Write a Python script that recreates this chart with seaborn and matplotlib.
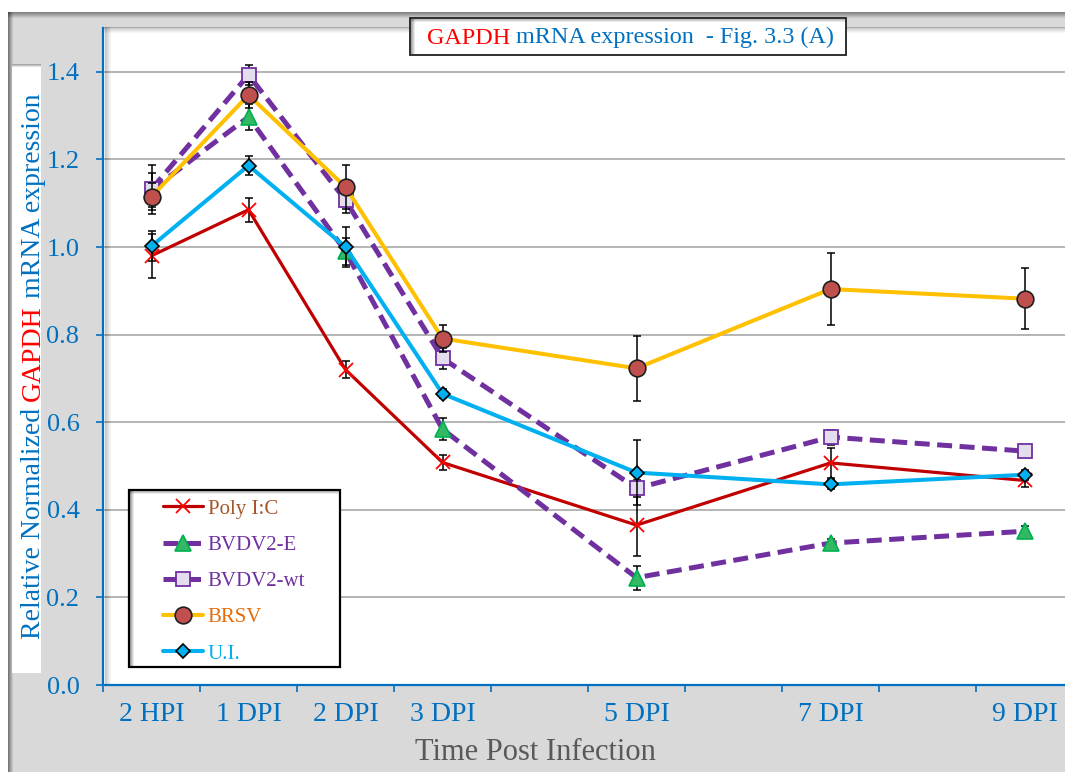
import numpy as np
import pandas as pd
import matplotlib
matplotlib.use("Agg")
import matplotlib.pyplot as plt
import seaborn as sns
from matplotlib.patches import Rectangle
from matplotlib.lines import Line2D

# ---------------- data ----------------
time_labels = ["2 HPI", "1 DPI", "2 DPI", "3 DPI", "5 DPI", "7 DPI", "9 DPI"]
time_pos = [0.5, 1.5, 2.5, 3.5, 5.5, 7.5, 9.5]

series_names = ["Poly I:C", "BVDV2-E", "BVDV2-wt", "BRSV", "U.I."]

poly_ic = [0.98, 1.085, 0.72, 0.508, 0.365, 0.507, 0.467]
poly_ic_err = [0.05, 0.028, 0.02, 0.017, 0.07, 0.035, 0.015]

bvdv2_e = [1.13, 1.297, 0.99, 0.584, 0.245, 0.324, 0.351]
bvdv2_e_err = [0.038, 0.03, 0.03, 0.025, 0.027, 0.01, 0.012]

bvdv2_wt = [1.132, 1.393, 1.107, 0.746, 0.449, 0.566, 0.534]
bvdv2_wt_err = [0.056, 0.022, 0.03, 0.024, 0.02, 0.017, 0.01]

brsv = [1.115, 1.347, 1.137, 0.791, 0.723, 0.904, 0.882]
brsv_err = [0.03, 0.03, 0.05, 0.03, 0.074, 0.083, 0.07]

ui = [1.002, 1.186, 1.0, 0.665, 0.485, 0.458, 0.48]
ui_err = [0.034, 0.021, 0.045, 0.01, 0.074, 0.01, 0.012]

y_ticks = [0.0, 0.2, 0.4, 0.6, 0.8, 1.0, 1.2, 1.4]

# ---------------- style ----------------
W, H = 1065, 772
sns.set_theme(style="white")
plt.rcParams["font.family"] = ["Liberation Serif", "DejaVu Serif"]

BLUE = "#0070C0"
RED = "#FF0000"

fig = plt.figure(figsize=(W / 100, H / 100), dpi=100)
fig.patch.set_facecolor("white")


def add_rect(x0, y0, x1, y1, z, **kw):
    r = Rectangle((x0 / W, 1 - y1 / H), (x1 - x0) / W, (y1 - y0) / H,
                  transform=fig.transFigure, zorder=z, **kw)
    fig.add_artist(r)
    return r


def shadow_cols(x0, y0, y1, n, a0, z):
    for i in range(n):
        add_rect(x0 + i, y0, x0 + i + 1, y1, z, facecolor="black",
                 alpha=a0 * (1 - i / n), lw=0, antialiased=False)


def shadow_rows(y0, x0, x1, n, a0, z):
    for i in range(n):
        add_rect(x0, y0 + i, x1, y0 + i + 1, z, facecolor="black",
                 alpha=a0 * (1 - i / n), lw=0, antialiased=False)


# outer gray frame with shadow
add_rect(8, 12, W + 5, H + 5, -3, facecolor="#D9D9D9", lw=0)
shadow_rows(12, 8, W + 5, 6, 0.4, -2)
shadow_cols(8, 12, H + 5, 5, 0.45, -2)

# white strip behind y label
add_rect(12, 64, 41, 673, -1, facecolor="white", lw=0)
shadow_rows(64, 12, 41, 3, 0.35, -0.9)

# ---------------- axes ----------------
ax = fig.add_axes([103 / W, 87 / H, 970 / W, 657 / H])
ax.set_facecolor("white")

styles = [
    dict(values=poly_ic, err=poly_ic_err, color="#C00000", lw=2.3, ls="-",
         marker="x", ms=9.5, mfc="#FF0000", mec="#FF0000", mew=1.3),
    dict(values=bvdv2_e, err=bvdv2_e_err, color="#7030A0", lw=3.6, ls=(0, (3, 1.5)),
         marker="^", ms=11, mfc="#33B864", mec="#00B050", mew=1.2),
    dict(values=bvdv2_wt, err=bvdv2_wt_err, color="#7030A0", lw=3.6, ls=(0, (3, 1.5)),
         marker="s", ms=9.5, mfc="#E4DDEE", mec="#7030A0", mew=1.3),
    dict(values=brsv, err=brsv_err, color="#FFC000", lw=2.9, ls="-",
         marker="o", ms=12, mfc="#C0504D", mec="#1F1F1F", mew=1.2),
    dict(values=ui, err=ui_err, color="#00B0F0", lw=2.9, ls="-",
         marker="D", ms=7.3, mfc="#00B0F0", mec="black", mew=1.2),
]

for i, (name, st) in enumerate(zip(series_names, styles)):
    z = 3 + i
    ax.errorbar(time_pos, st["values"], yerr=st["err"], fmt="none",
                ecolor="black", elinewidth=1.1, capsize=3, capthick=1.1,
                zorder=z - 0.5)
    df = pd.DataFrame({"pos": time_pos, "value": st["values"]})
    sns.lineplot(data=df, x="pos", y="value", ax=ax, color=st["color"],
                 linewidth=st["lw"], linestyle=st["ls"], marker=st["marker"],
                 markersize=st["ms"], markerfacecolor=st["mfc"],
                 markeredgecolor=st["mec"], markeredgewidth=st["mew"],
                 sort=False, estimator=None, legend=False, zorder=z)

ax.set_xlim(0, 10)
ax.set_ylim(0, 1.5)
ax.set_xlabel("")
ax.set_ylabel("")

ax.set_xticks(range(11))
ax.set_xticklabels([])
ax.set_xticks(time_pos, minor=True)
ax.set_xticklabels(time_labels, minor=True)
ax.tick_params(axis="x", which="major", bottom=True, direction="out", length=5,
               width=1.2, color=BLUE)
ax.tick_params(axis="x", which="minor", bottom=True, length=0, pad=12,
               labelsize=20, labelcolor=BLUE)

ax.set_yticks(y_ticks)
ax.set_yticklabels([f"{v:.1f}" for v in y_ticks])
ax.tick_params(axis="y", which="major", left=True, direction="out", length=5,
               width=1.2, color=BLUE, labelcolor=BLUE, labelsize=19, pad=12)

ax.set_axisbelow(True)
ax.yaxis.grid(True, color="#A0A0A0", linewidth=1.1)
ax.xaxis.grid(False)

for s in ["top", "right"]:
    ax.spines[s].set_visible(False)
for s in ["left", "bottom"]:
    ax.spines[s].set_color(BLUE)
    ax.spines[s].set_linewidth(1.6)

# inner shadow of plot area
shadow_cols(105, 27, 684, 6, 0.22, 0.5)
shadow_rows(27, 104, W + 5, 6, 0.22, 0.5)

# ---------------- legend ----------------
add_rect(129, 490, 340, 667, 4, facecolor="white", edgecolor="black", lw=1.6)
shadow_cols(130, 491, 666, 4, 0.35, 4.1)
shadow_rows(491, 130, 339, 3, 0.25, 4.1)

handles = []
for st in styles:
    handles.append(Line2D([], [], color=st["color"], lw=st["lw"], ls=st["ls"],
                          marker=st["marker"], ms=st["ms"],
                          mfc=st["mfc"], mec=st["mec"], mew=st["mew"]))
leg = fig.legend(handles, series_names, loc="upper left",
                 bbox_to_anchor=(163 / W, 1 - 499 / H), frameon=False,
                 borderpad=0, borderaxespad=0, handlelength=1.9,
                 handletextpad=0.25, labelspacing=0.8, fontsize=15,
                 numpoints=1)
leg.set_zorder(5)
legend_colors = ["#A5572A", "#7030A0", "#7030A0", "#E46C0A", "#00B0F0"]
for t, c in zip(leg.get_texts(), legend_colors):
    t.set_color(c)

# ---------------- title box ----------------
add_rect(410, 18, 846, 55, 4, facecolor="white", edgecolor="#202020", lw=1.3)
shadow_cols(411, 19, 54, 4, 0.35, 4.1)
shadow_rows(19, 411, 845, 3, 0.25, 4.1)

renderer = fig.canvas.get_renderer()


def text_width(s, size):
    t1 = fig.text(0, 0, s + "|", fontsize=size)
    t2 = fig.text(0, 0, "|", fontsize=size)
    w = t1.get_window_extent(renderer).width - t2.get_window_extent(renderer).width
    t1.remove()
    t2.remove()
    return w


def rainbow(x_px, y_px, pieces, colors, size, vertical=False):
    offset = 0.0
    prefix = ""
    for s, c in zip(pieces, colors):
        if prefix:
            offset = text_width(prefix, size)
        if vertical:
            x, y = x_px, y_px - offset
            rot = 90
        else:
            x, y = x_px + offset, y_px
            rot = 0
        fig.text(x / W, 1 - y / H, s, color=c, fontsize=size, rotation=rot,
                 rotation_mode="anchor", ha="left", va="baseline", zorder=6)
        prefix += s


rainbow(426.5, 43.5, ["GAPDH", " mRNA expression  - Fig. 3.3 (A)"], [RED, BLUE], 17.4)
rainbow(40, 639, ["Relative Normalized ", "GAPDH", " mRNA expression"],
        [BLUE, RED, BLUE], 20, vertical=True)

fig.text(535 / W, 1 - 760 / H, "Time Post Infection", ha="center",
         va="baseline", fontsize=22, color="#595959", zorder=6)

fig.savefig("out.png", dpi=100)
